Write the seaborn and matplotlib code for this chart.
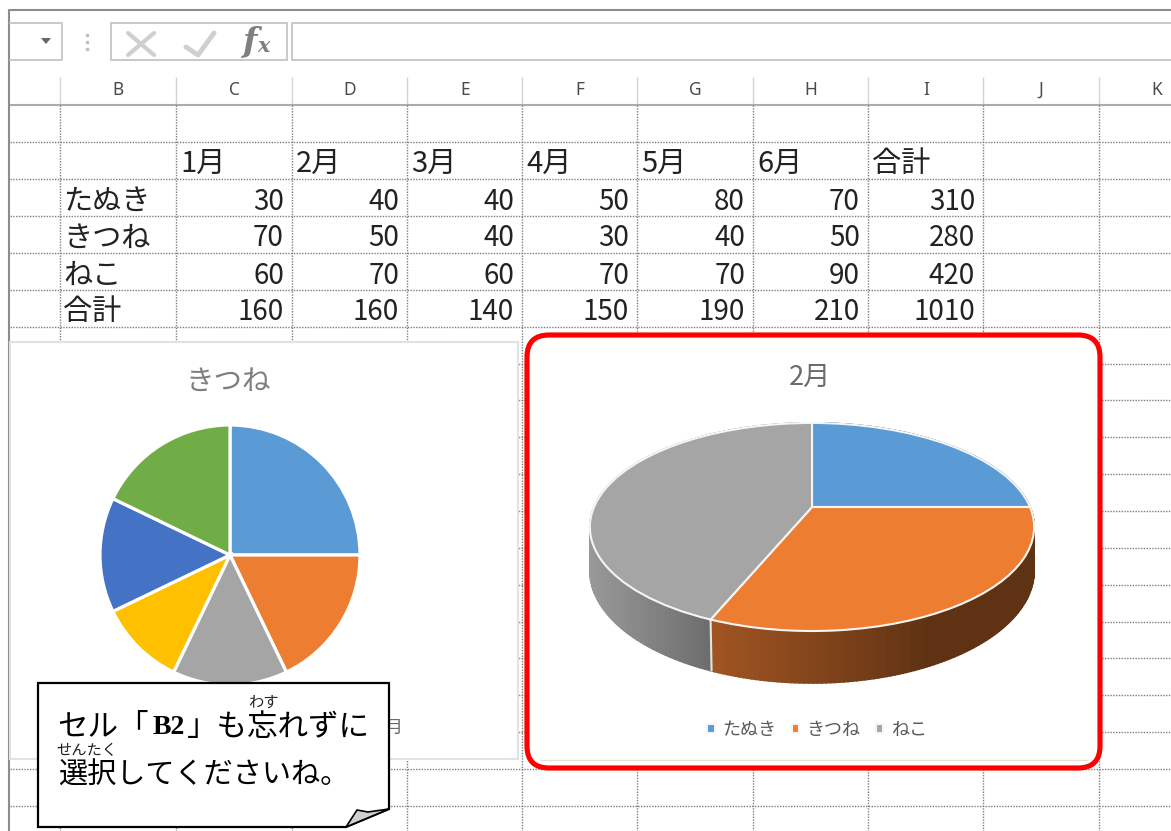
import numpy as np
import matplotlib
matplotlib.use("Agg")
import matplotlib.pyplot as plt
import matplotlib.transforms as mtrans
from matplotlib.patches import FancyBboxPatch, Polygon, Rectangle
import seaborn as sns

# sheet contents
COLUMN_LETTERS = ["B", "C", "D", "E", "F", "G", "H", "I", "J", "K"]
MONTHS = ["1月", "2月", "3月", "4月", "5月", "6月", "合計"]
ROW_NAMES = ["たぬき", "きつね", "ねこ", "合計"]
TANUKI = [30, 40, 40, 50, 80, 70, 310]
KITSUNE = [70, 50, 40, 30, 40, 50, 280]
NEKO = [60, 70, 60, 70, 70, 90, 420]
TOTAL = [160, 160, 140, 150, 190, 210, 1010]

# charts
FLAT_TITLE = "きつね"
FLAT_VALUES = KITSUNE[:6]
TILT_TITLE = "2月"
TILT_NAMES = ROW_NAMES[:3]
TILT_VALUES = [TANUKI[1], KITSUNE[1], NEKO[1]]

OFFICE = ["#5B9BD5", "#ED7D31", "#A5A5A5", "#FFC000", "#4472C4", "#70AD47"]
COL_X = [60, 176, 292, 407, 522, 637, 753, 868, 983, 1099]
ROW_Y = [105, 142, 179, 216, 253, 290, 327, 364, 400, 437, 474, 511, 548, 585, 622, 658, 695, 732, 769, 806]
CX, CY, RX, RY, SQUEEZE, DEPTH = 812, 507, 218, 100.2, 0.192, 42

sns.set_theme(style="white")
plt.rcParams["font.family"] = ["Noto Sans CJK JP", "DejaVu Sans"]
colors = sns.color_palette(OFFICE)


def project(u, v):
    s = 1 / (1 + SQUEEZE * v)
    return CX + RX * u * s, CY - RY * v * s, s


class Tilt(mtrans.Transform):
    input_dims = 2
    output_dims = 2

    def transform_non_affine(self, values):
        values = np.asarray(values)
        x, y, _ = project(values[:, 0], values[:, 1])
        return np.column_stack([x, y])


def draw_wall(ax, wedge, xs, shades):
    angles = np.radians(np.linspace(wedge.theta1, wedge.theta2, 120))
    for a, b in zip(angles[:-1], angles[1:]):
        x0, y0, s0 = project(np.cos(a), np.sin(a))
        x1, y1, s1 = project(np.cos(b), np.sin(b))
        level = np.interp((x0 + x1) / 2, xs, shades)
        c = tuple(np.array(wedge.get_facecolor()[:3]) * level)
        ax.fill([x0, x1, x1, x0], [y0, y1, y1 + DEPTH * s1, y0 + DEPTH * s0], fc=c, ec=c, lw=1.2, zorder=4)


fig = plt.figure(figsize=(11.71, 8.31), dpi=100)
ax = fig.add_axes([0, 0, 1, 1])

# formula bar
ax.plot([9, 9, 1171], [831, 9.5, 9.5], color="#8c8c8c", lw=1.5, zorder=1)
ax.plot([10, 62, 62, 10], [23, 23, 60, 60], color="#c9c9c9", lw=1.4, zorder=1)
ax.add_patch(Rectangle((111, 23), 176, 37, fc="white", ec="#c9c9c9", lw=1.4, zorder=1))
ax.plot([1171, 292, 292, 1171], [23, 23, 60, 60], color="#c9c9c9", lw=1.4, zorder=1)
ax.add_patch(Polygon([[41, 38], [51, 38], [46, 44]], fc="#666666", ec="none", zorder=1))
ax.scatter([87, 87, 87], [35, 42, 49], s=4, marker="s", color="#c0c0c0", zorder=1)
ax.plot([128, 154], [33, 55], color="#cfcfcf", lw=3, zorder=1)
ax.plot([154, 128], [33, 55], color="#cfcfcf", lw=3, zorder=1)
ax.plot([186, 198, 214], [47, 55, 33], color="#cfcfcf", lw=3.5, zorder=1)
ax.text(243, 42, "f", family="DejaVu Serif", style="italic", weight="bold", fontsize=24, color="#7f7f7f", va="center", zorder=1)
ax.text(257, 46, "x", family="DejaVu Serif", style="italic", weight="bold", fontsize=15, color="#7f7f7f", va="center", zorder=1)

# sheet headers and grid
ax.vlines(COL_X, 77, 105, color="#d4d4d4", lw=1, zorder=1)
ax.hlines(105, 10, 1171, color="#ababab", lw=1.5, zorder=1)
for x, name in zip(COL_X, COLUMN_LETTERS):
    ax.text(x + 58, 90, name, family="Noto Sans", fontsize=12.5, color="#4a4a4a", ha="center", va="center", zorder=1)
ax.hlines(ROW_Y[1:], 10, 1171, color="#7f7f7f", lw=1, linestyle=(0, (1, 1)), zorder=1)
ax.vlines(COL_X, 105, 831, color="#7f7f7f", lw=1, linestyle=(0, (1, 1)), zorder=1)

# table
for i, month in enumerate(MONTHS):
    ax.text(COL_X[i + 1] + 4, 164, month, fontsize=21, color="#222222", va="center", zorder=2)
for r, (name, row) in enumerate(zip(ROW_NAMES, [TANUKI, KITSUNE, NEKO, TOTAL])):
    y = 201.5 + 37 * r
    ax.text(63, y, name, fontsize=21, color="#222222", va="center", zorder=2)
    for i, value in enumerate(row):
        ax.text(COL_X[i + 2] - 8, y, str(value), fontsize=20, color="#222222", ha="right", va="center", zorder=2)

# left chart
ax.add_patch(Rectangle((10, 342), 508, 417, fc="white", ec="#e2e2e2", lw=1.5, zorder=3))
ax.text(228, 382, FLAT_TITLE, fontsize=20.5, color="#7f7f7f", ha="center", va="center", zorder=4)
flat, _ = ax.pie(FLAT_VALUES, colors=colors, startangle=90, counterclock=False, frame=True,
                 wedgeprops=dict(edgecolor="white", linewidth=2.3, zorder=4))
flat_place = mtrans.Affine2D().scale(130, -130).translate(230, 555)
for w in flat:
    w.set_transform(flat_place + ax.transData)
ax.text(403, 728, "6" + MONTHS[0][-1], fontsize=13, color="#6b6b6b", ha="right", va="center", zorder=4)

# right chart
ax.add_patch(FancyBboxPatch((527, 335), 573, 433, boxstyle="round,pad=0,rounding_size=22",
                            fc="white", ec="#ff0000", lw=3.7, zorder=3))
ax.hlines(760, 540, 1088, color="#e2e2e2", lw=1, zorder=3)
ax.text(810, 377, TILT_TITLE, fontsize=19.5, color="#6b6b6b", ha="center", va="center", zorder=4)
tilt, _ = ax.pie(TILT_VALUES, colors=colors[:3], startangle=90, counterclock=False, frame=True,
                 wedgeprops=dict(edgecolor="#f5f5f5", linewidth=1.5, zorder=5))
for w in tilt:
    w.set_transform(Tilt() + ax.transData)
draw_wall(ax, tilt[0], [800, 1040], [0.45, 0.45])
draw_wall(ax, tilt[1], [712, 880, 930], [0.68, 0.47, 0.40])
draw_wall(ax, tilt[2], [590, 712], [0.93, 0.66])
seam = np.radians(tilt[1].theta1)
sx, sy, ss = project(np.cos(seam), np.sin(seam))
ax.plot([sx, sx + 1], [sy, sy + DEPTH * ss], color="#e4e4e4", lw=1.5, zorder=4.5)
ax.legend(tilt, TILT_NAMES, loc="center", bbox_to_anchor=(817, 730), bbox_transform=ax.transData,
          ncol=3, frameon=False, fontsize=13, labelcolor="#595959", handlelength=0.42, handleheight=0.42,
          handletextpad=0.4, columnspacing=0.85).set_zorder(6)

# speech note
ax.add_patch(Polygon([[38, 683], [389, 683], [389, 809], [346, 827], [38, 827]],
                     fc="white", ec="black", lw=1.6, joinstyle="miter", zorder=7))
ax.add_patch(Polygon([[346, 827], [357, 810], [368, 812], [389, 809]],
                     fc="#cfcfcf", ec="black", lw=1.2, zorder=8))
ax.text(57, 727, "セル「", fontsize=22, color="black", va="center", zorder=8)
ax.text(153, 727, "B2", family="Liberation Serif", weight="bold", fontsize=20, color="black", va="center", zorder=8)
ax.text(187, 727, "」も忘れずに", fontsize=22, color="black", va="center", zorder=8)
ax.text(263, 702, "わす", fontsize=11, color="#222222", ha="center", va="center", zorder=8)
ax.text(87, 750, "せんたく", fontsize=11, color="#222222", ha="center", va="center", zorder=8)
ax.text(58, 776, "選択してくださいね。", fontsize=21, color="black", va="center", zorder=8)

ax.set_aspect("auto")
ax.set_xlim(0, 1171)
ax.set_ylim(831, 0)
ax.set_axis_off()
fig.savefig("out.png", dpi=100, facecolor="white")
